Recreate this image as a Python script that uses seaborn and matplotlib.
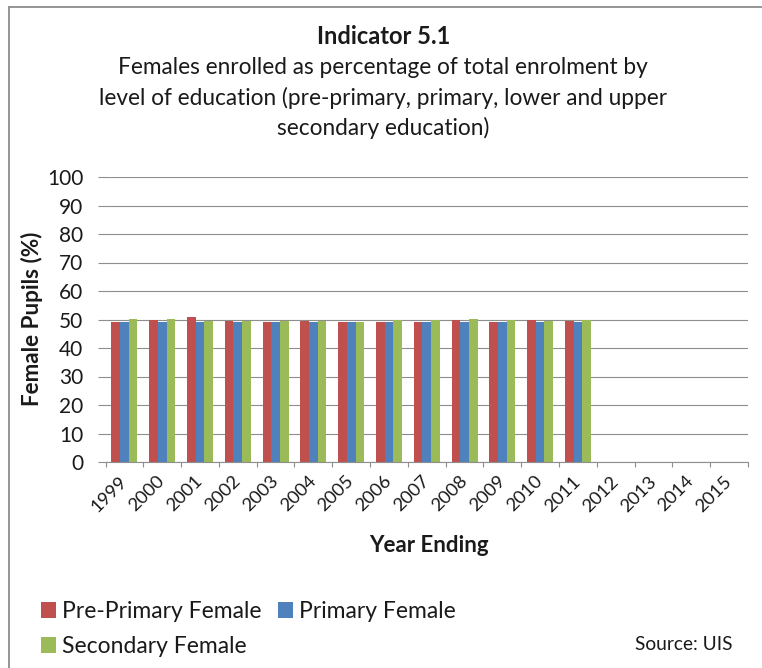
import numpy as np
import pandas as pd
import matplotlib
matplotlib.use("Agg")
import matplotlib.pyplot as plt
from matplotlib.patches import Patch
from matplotlib.lines import Line2D
from matplotlib.transforms import ScaledTranslation
import seaborn as sns

# Reporting years on the category axis
years = [str(y) for y in range(1999, 2016)]

# Female share of enrolment (%) per level; later years not yet reported
pre_primary = [49.0, 50.0, 50.8, 49.5, 49.0, 49.5, 49.0, 49.0, 49.0, 50.0, 49.0, 50.0, 49.5,
               np.nan, np.nan, np.nan, np.nan]
primary = [49.0, 49.0, 49.0, 49.0, 49.0, 49.0, 49.0, 49.0, 49.0, 49.0, 49.0, 49.0, 49.0,
           np.nan, np.nan, np.nan, np.nan]
secondary = [50.3, 50.3, 49.5, 49.5, 49.5, 49.5, 49.0, 50.0, 50.0, 50.3, 50.0, 49.5, 50.0,
             np.nan, np.nan, np.nan, np.nan]

levels = ["Pre-Primary Female", "Primary Female", "Secondary Female"]
colors = ["#C0504D", "#4F81BD", "#9BBB59"]
y_ticks = list(range(0, 101, 10))

title = "Indicator 5.1"
subtitle_lines = [
    "Females enrolled as percentage of total enrolment by",
    "level of education (pre-primary, primary, lower and upper",
    "secondary education)",
]

df = pd.DataFrame({
    "Year": years * 3,
    "Value": pre_primary + primary + secondary,
    "Level": [levels[0]] * len(years) + [levels[1]] * len(years) + [levels[2]] * len(years),
}).dropna()

sns.set_theme(style="white")
plt.rcParams["font.family"] = ["Lato", "DejaVu Sans"]

W, H = 762, 668
txt_c = "#1a1a1a"
grid_c = "#8E8E8E"
fig = plt.figure(figsize=(W / 100, H / 100), dpi=100)
left, right, top, bottom = 105.5, 748, 177, 462
ax = fig.add_axes([left / W, 1 - bottom / H, (right - left) / W, (bottom - top) / H])

sns.barplot(data=df, x="Year", y="Value", hue="Level", order=years, hue_order=levels,
            palette=colors, saturation=1, width=0.69, ax=ax, legend=False, errorbar=None,
            edgecolor="none", linewidth=0)

ax.set_ylim(0, 100)
ax.set_xlim(-0.5, len(years) - 0.5)
ax.set_yticks(y_ticks)
ax.set_yticklabels([str(v) for v in y_ticks], fontsize=15, color=txt_c)
ax.yaxis.grid(True, color=grid_c, linewidth=0.8)
ax.set_axisbelow(True)

ax.set_xticks(range(len(years)))
ax.set_xticklabels(years, rotation=45, ha="right", va="center", rotation_mode="anchor",
                   fontsize=13.3, color=txt_c)
shift = ScaledTranslation(13 / 100, -4 / 100, fig.dpi_scale_trans)
for lbl in ax.get_xticklabels():
    lbl.set_transform(lbl.get_transform() + shift)
ax.set_xticks(np.arange(-0.5, len(years), 1), minor=True)
ax.tick_params(axis="x", which="major", length=0, pad=12)
ax.tick_params(axis="x", which="minor", length=3.6, width=0.8, color=grid_c, bottom=True)
ax.tick_params(axis="y", which="major", length=6, width=0.8, color=grid_c, pad=10, left=True)

for s in ["top", "right", "left"]:
    ax.spines[s].set_visible(False)
ax.spines["bottom"].set_color(grid_c)
ax.spines["bottom"].set_linewidth(0.8)

ax.set_xlabel("")
ax.set_ylabel("")
fig.text(32 / W, 1 - 319 / H, "Female Pupils (%)", rotation=90, ha="center", va="center",
         fontsize=16.2, fontweight="bold", color=txt_c)
fig.text(429 / W, 1 - 546 / H, "Year Ending", ha="center", va="center",
         fontsize=16, fontweight="bold", color=txt_c)

# Titles
fig.text(384 / W, 1 - 37 / H, title, ha="center", va="center",
         fontsize=17, fontweight="bold", color=txt_c)
for line, yc in zip(subtitle_lines, [67, 98, 128]):
    fig.text(383 / W, 1 - yc / H, line, ha="center", va="center", fontsize=16.3, color=txt_c)

# Legend: first column Pre-Primary / Secondary, second column Primary
order = [0, 2, 1]
handles = [Patch(facecolor=colors[i], edgecolor="none", label=levels[i]) for i in order]
fig.legend(handles=handles, loc="upper left", bbox_to_anchor=(32 / W, 1 - 592 / H), ncol=2,
           frameon=False, fontsize=16.5, handlelength=0.65, handleheight=0.65,
           handletextpad=0.25, columnspacing=0.75, labelspacing=0.6, borderaxespad=0,
           labelcolor=txt_c)

fig.text(684 / W, 1 - 644 / H, "Source: UIS", ha="center", va="center", fontsize=13.8,
         color=txt_c)

# Chart frame edges
fig.add_artist(Line2D([9 / W, 1], [1 - 7 / H, 1 - 7 / H], transform=fig.transFigure,
                      color="#8C8C8C", linewidth=1.3))
fig.add_artist(Line2D([9 / W, 9 / W], [0, 1 - 7 / H], transform=fig.transFigure,
                      color="#8C8C8C", linewidth=1.3))

fig.savefig("out.png", dpi=100)
